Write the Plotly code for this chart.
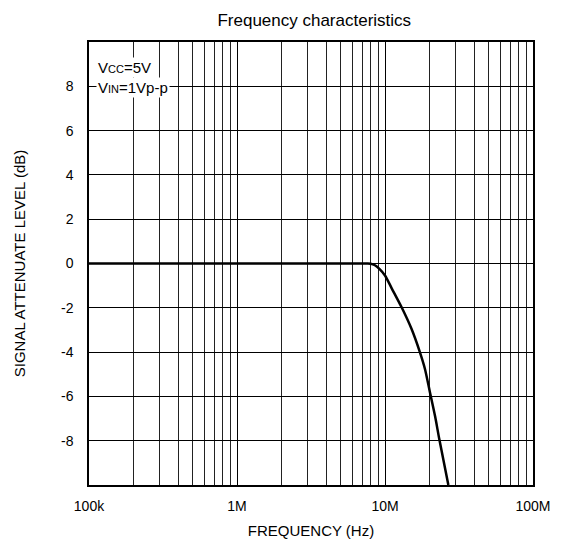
import plotly.graph_objects as go

# Data (frequency in Hz, level in dB)
freq_hz = [1e5, 7.5e6, 8.0e6, 8.55e6, 9.2e6, 1.0e7, 1.11e7, 1.3e7, 1.51e7,
           1.72e7, 1.86e7, 2.01e7, 2.18e7, 2.33e7, 2.68e7]
level_db = [0, 0, -0.01, -0.08, -0.25, -0.54, -1.12, -2.0, -2.95,
            -4.0, -4.75, -5.8, -6.9, -7.95, -10.0]

x_tickvals = [1e5, 1e6, 1e7, 1e8]
x_ticktext = ["100k", "1M", "10M", "100M"]
y_tickvals = [-8, -6, -4, -2, 0, 2, 4, 6, 8]
y_ticktext = ["-8", "-6", "-4", "-2", "0", "2", "4", "6", "8"]

FONT = "Liberation Sans, Arial, Helvetica, sans-serif"

fig = go.Figure()
fig.add_trace(go.Scatter(
    x=freq_hz, y=level_db, mode="lines",
    line=dict(color="black", width=2.5, shape="spline", smoothing=0.8),
    showlegend=False, hoverinfo="skip",
))

W, H = 563, 537
fig.update_layout(
    width=W, height=H,
    margin=dict(l=81, r=38, t=34, b=60, autoexpand=False),
    paper_bgcolor="white", plot_bgcolor="white",
    font=dict(family=FONT, color="black", size=14),
    title=dict(text="Frequency characteristics", x=0.544, xanchor="center",
               yref="container", y=1 - 12 / H, yanchor="middle",
               font=dict(size=17, family=FONT)),
    xaxis=dict(
        type="log", range=[5, 8], automargin=False,
        tickvals=x_tickvals, ticktext=x_ticktext,
        showgrid=True, gridcolor="black", gridwidth=1,
        minor=dict(dtick="D1", showgrid=True, gridcolor="#222", gridwidth=1, ticks=""),
        ticks="", ticklabelstandoff=7,
        showline=True, linecolor="black", linewidth=1.5, mirror=True,
        zeroline=False,
        title=dict(text="FREQUENCY (Hz)", font=dict(size=15), standoff=13),
        tickfont=dict(size=14),
    ),
    yaxis=dict(
        range=[-10, 10], automargin=False,
        tickvals=y_tickvals, ticktext=y_ticktext,
        showgrid=True, gridcolor="black", gridwidth=1,
        ticks="", ticklabelstandoff=11,
        showline=True, linecolor="black", linewidth=1.5, mirror=True,
        zeroline=False,
        title=dict(text="SIGNAL ATTENUATE LEVEL (dB)", font=dict(size=15), standoff=32),
        tickfont=dict(size=14),
    ),
    annotations=[
        dict(text="V<span style='font-size:11px'>CC</span>=5V", xref="paper", yref="y",
             x=0.016, y=8.85, xanchor="left", yanchor="middle", showarrow=False,
             bgcolor="white", borderpad=1, font=dict(size=15, family=FONT)),
        dict(text="V<span style='font-size:11px'>IN</span>=1Vp-p", xref="paper", yref="y",
             x=0.016, y=7.95, xanchor="left", yanchor="middle", showarrow=False,
             bgcolor="white", borderpad=1, font=dict(size=15, family=FONT)),
    ],
)

fig.write_html("out.html")
